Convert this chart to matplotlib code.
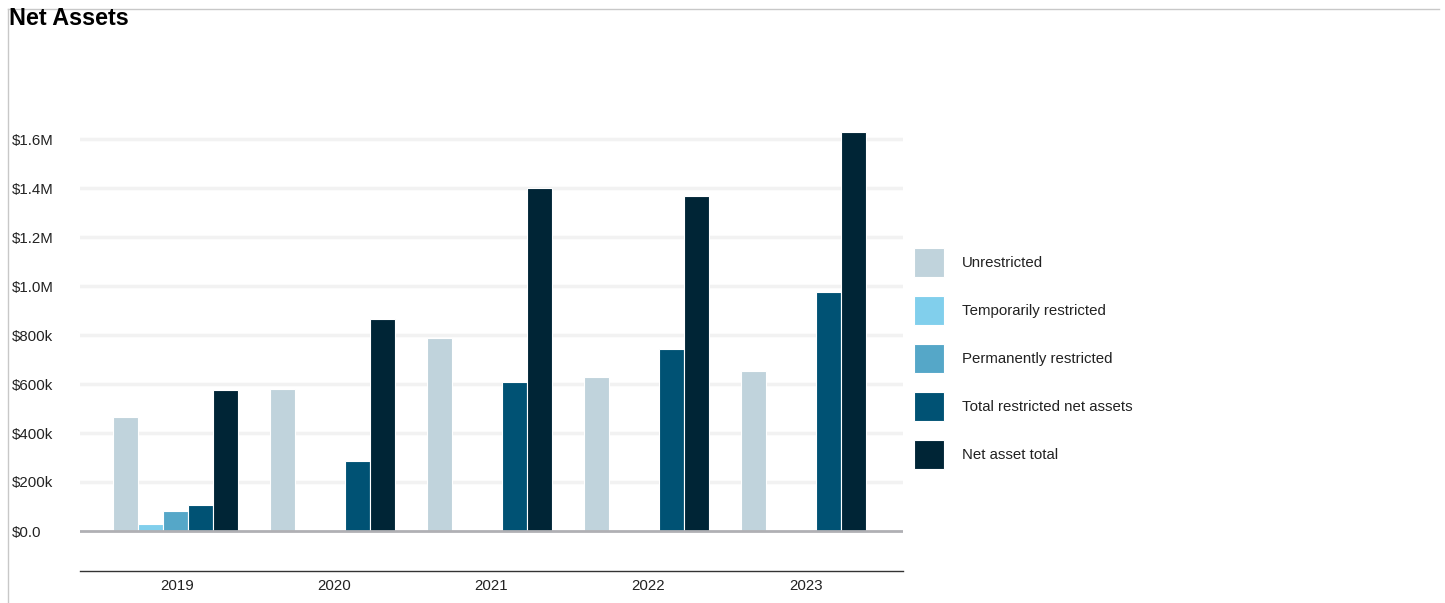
import numpy as np
import matplotlib
matplotlib.use('Agg')
import matplotlib.pyplot as plt
from matplotlib.lines import Line2D
from matplotlib.ticker import FuncFormatter

years = ['2019', '2020', '2021', '2022', '2023']
series = ['Unrestricted', 'Temporarily restricted', 'Permanently restricted',
          'Total restricted net assets', 'Net asset total']
unrestricted = [467000, 580000, 788000, 629000, 652000]
temp_restricted = [30000, 0, 0, 0, 0]
perm_restricted = [83000, 0, 0, 0, 0]
total_restricted = [108000, 286000, 608000, 742000, 974000]
net_total = [575000, 865000, 1399000, 1369000, 1627000]
yticks = [0, 200000, 400000, 600000, 800000, 1000000, 1200000, 1400000, 1600000]

colors = ['#c0d3dc', '#81cfec', '#55a7c8', '#005274', '#002536']

plt.rcParams['font.family'] = ['Liberation Sans', 'DejaVu Sans']

W, H = 1445, 603
fig = plt.figure(figsize=(W / 100, H / 100), dpi=100)

# axes box in pixels: left 80, right 903, top 110, bottom 571
l, r, t, b = 80, 903, 110, 571
ax = fig.add_axes([l / W, 1 - b / H, (r - l) / W, (b - t) / H])

x = np.arange(len(years))
bw = 25 / 157
data = [unrestricted, temp_restricted, perm_restricted, total_restricted, net_total]
handles = []
for i, (vals, c, name) in enumerate(zip(data, colors, series)):
    bars = ax.bar(x + (i - 2) * bw - 0.012, vals, width=bw, color=c,
                  edgecolor='white', linewidth=0.8, label=name, zorder=3)
    handles.append(bars)

ppv = 245 / 1e6  # pixels per dollar
ax.set_ylim(-(b - 531) / ppv, (531 - t) / ppv)
ax.set_xlim(-0.62, 4.62)

for v in yticks[1:]:
    ax.axhline(v, color='#f2f2f2', linewidth=2.5, zorder=1)
ax.axhline(0, color='#b0b0b4', linewidth=2, zorder=4)

ax.set_yticks(yticks)


def fmt(v, pos):
    if v == 0:
        return '$0.0'
    if v >= 1e6:
        return '${:.1f}M'.format(v / 1e6)
    return '${:.0f}k'.format(v / 1e3)


ax.yaxis.set_major_formatter(FuncFormatter(fmt))
ax.tick_params(axis='y', length=0, pad=68 * 0.72, labelsize=10.8, labelcolor='#222222')
for lab in ax.get_yticklabels():
    lab.set_horizontalalignment('left')

ax.set_xticks(x)
ax.set_xticklabels(years)
ax.tick_params(axis='x', length=0, pad=6, labelsize=10.8, labelcolor='#222222')

for s in ['top', 'right', 'left']:
    ax.spines[s].set_visible(False)
ax.spines['bottom'].set_color('#333333')
ax.spines['bottom'].set_linewidth(1)

leg = fig.legend(handles=handles, labels=series, loc='upper left',
                 bbox_to_anchor=(914 / W, 1 - 248 / H), frameon=False,
                 fontsize=10.8, handleheight=2.6, handlelength=2.0,
                 labelspacing=1.27, handletextpad=1.2, borderpad=0,
                 borderaxespad=0)
for txt in leg.get_texts():
    txt.set_color('#222222')

fig.text(9 / W, 1 - 7 / H, 'Net Assets', fontsize=16.8, fontweight='bold',
         va='top', ha='left', color='black')

# container border
fig.add_artist(Line2D([8 / W, 8 / W], [0, 1 - 9 / H], color='#c8c8c8', linewidth=1))
fig.add_artist(Line2D([8 / W, 1439 / W], [1 - 9 / H, 1 - 9 / H], color='#c8c8c8', linewidth=1))

fig.savefig('out.png', dpi=100)
